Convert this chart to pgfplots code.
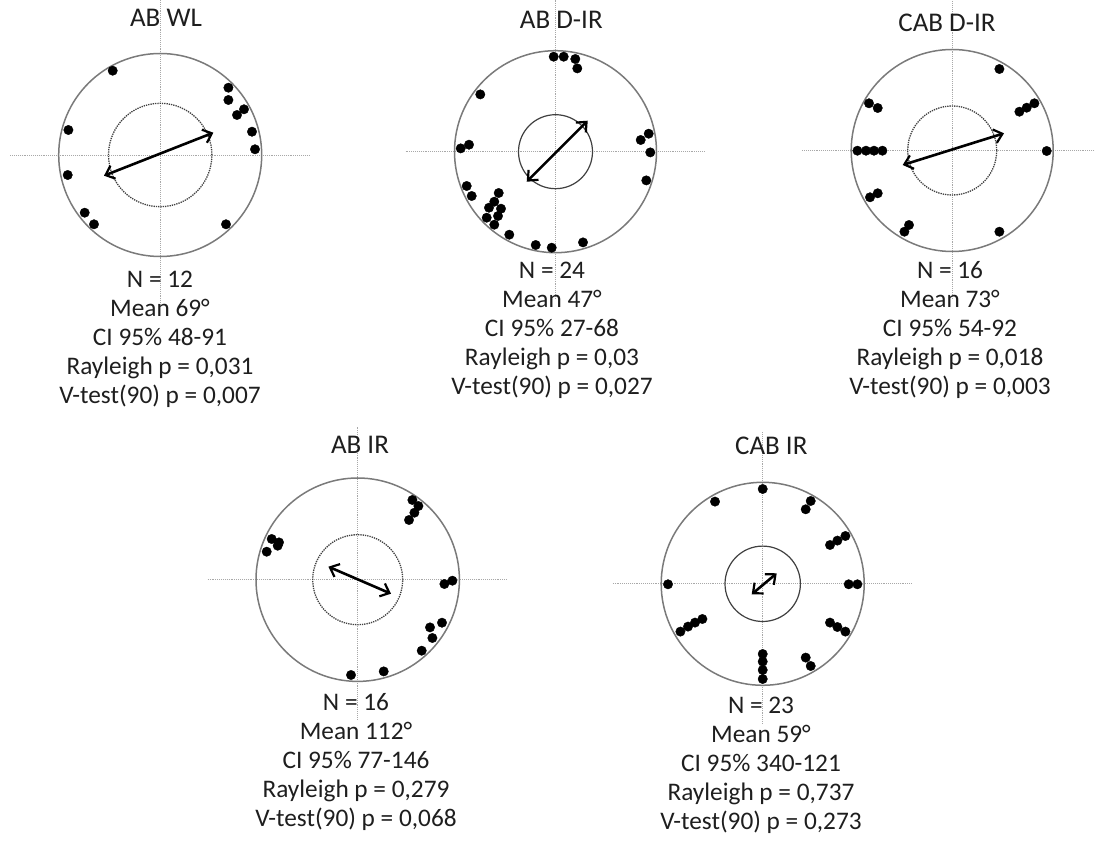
\documentclass[border=0pt]{standalone}
\usepackage{fontspec}
\setmainfont{Carlito}
\usepackage{pgfplots}
\pgfplotsset{compat=1.18}
\usetikzlibrary{arrows.meta}
\definecolor{ringgray}{HTML}{7A7A7A}
\definecolor{crossgray}{HTML}{A8A8A8}
\definecolor{innergray}{HTML}{404040}
\definecolor{txt}{HTML}{1E1E1E}
\pgfplotsset{
  polstyle/.style={hide axis, x=1pt, y=1pt, xmin=-155, xmax=155, ymin=-155, ymax=155, clip=false, anchor=center},
  cross/.style={crossgray, densely dotted, line width=0.9pt, no marks},
  dots/.style={only marks, mark=*, mark size=4.7pt, black},
  vec/.style={black, line width=2.6pt, no marks, {Straight Barb[length=8pt,width=14pt,line width=2.2pt]}-{Straight Barb[length=8pt,width=14pt,line width=2.2pt]}},
}
\newcommand{\ttl}[3]{\node[anchor=base, font=\fontsize{27}{32}\selectfont, text=txt, inner sep=0pt] at (#1pt,#2pt) {#3};}
\newcommand{\stats}[7]{%
  \node[anchor=base, font=\fontsize{25.3}{28}\selectfont, text=txt, inner sep=0pt] at (#1pt,#2pt) {#3};
  \node[anchor=base, font=\fontsize{25.3}{28}\selectfont, text=txt, inner sep=0pt] at (#1pt,#2pt-28.8pt) {#4};
  \node[anchor=base, font=\fontsize{25.3}{28}\selectfont, text=txt, inner sep=0pt] at (#1pt,#2pt-57.6pt) {#5};
  \node[anchor=base, font=\fontsize{25.3}{28}\selectfont, text=txt, inner sep=0pt] at (#1pt,#2pt-86.4pt) {#6};
  \node[anchor=base, font=\fontsize{25.3}{28}\selectfont, text=txt, inner sep=0pt] at (#1pt,#2pt-115.2pt) {#7};}
\begin{document}
\begin{tikzpicture}
\useasboundingbox (0,0) rectangle (1095pt,841pt);
% ---------- AB WL ----------
\begin{axis}[polstyle, at={(160.2pt,686pt)}]
\addplot[cross] coordinates {(-150,0) (150,0)};
\addplot[cross] coordinates {(0,-150) (0,155)};
\draw[ringgray, line width=1.5pt] (axis cs:0,0) circle[radius=101.5pt];
\draw[innergray, densely dotted, line width=1.3pt] (axis cs:0,0) circle[radius=51.7pt];
\addplot[vec] coordinates {(-56.2,-20.7) (53.2,22.3)};
\addplot[dots] coordinates {(-47.5,84.3) (68.2,67.3) (68.2,55) (83.8,45.7) (76.8,40) (91.8,23.3) (94.8,5.7) (-91.8,25) (-92.5,-20) (-75.5,-57.7) (-66.2,-69.3) (65.8,-69.3)};
\end{axis}
% ---------- AB D-IR ----------
\begin{axis}[polstyle, at={(555.5pt,689.3pt)}]
\addplot[cross] coordinates {(-150,0) (150,0)};
\addplot[cross] coordinates {(0,-147) (0,152)};
\draw[ringgray, line width=1.5pt] (axis cs:0,0) circle[radius=101pt];
\draw[innergray, line width=1.2pt] (axis cs:0,0) circle[radius=37pt];
\addplot[vec] coordinates {(-28.8,-30) (32.2,31)};
\addplot[dots] coordinates {(-1.8,95) (8.2,95) (19.8,92.7) (21.8,83.3) (-75.2,57.3) (-86.5,7) (-94.8,3.3) (85.2,11.7) (93.2,18) (94.8,-0.7) (90.8,-28.7) (-88.8,-34.3) (-83.8,-44.3) (-56.8,-41.3) (-61.2,-50) (-66.5,-56) (-54.5,-57) (-68.8,-66) (-57.5,-64.3) (-61.2,-73) (-46.2,-83) (-19.8,-93.3) (-3.8,-96) (27.5,-90.7)};
\end{axis}
% ---------- CAB D-IR ----------
\begin{axis}[polstyle, at={(952.2pt,690.5pt)}]
\addplot[cross] coordinates {(-150,0) (150,0)};
\addplot[cross] coordinates {(0,-148) (0,152)};
\draw[ringgray, line width=1.5pt] (axis cs:0,0) circle[radius=101pt];
\draw[innergray, densely dotted, line width=1.3pt] (axis cs:0,0) circle[radius=44.5pt];
\addplot[vec] coordinates {(-49.5,-14.5) (51.8,17.2)};
\addplot[dots] coordinates {(47.2,81.5) (-83.2,47.2) (-74.5,42.5) (67.2,38.8) (74.5,42.8) (82.2,47.2) (-94.8,-0.2) (-86.2,-0.2) (-78.2,-0.2) (-69.8,-0.2) (94.5,-0.5) (-82.2,-46.8) (-74.5,-42.8) (-47.8,-81.2) (-43.2,-74.5) (47.2,-81.2)};
\end{axis}
% ---------- AB IR ----------
\begin{axis}[polstyle, at={(357.7pt,261.3pt)}]
\addplot[cross] coordinates {(-150,0) (150,0)};
\addplot[cross] coordinates {(0,-140) (0,153)};
\draw[ringgray, line width=1.5pt] (axis cs:0,0) circle[radius=101.7pt];
\draw[innergray, densely dotted, line width=1.3pt] (axis cs:0,0) circle[radius=45pt];
\addplot[vec] coordinates {(-29.3,13) (33.3,-14)};
\addplot[dots] coordinates {(54.7,79.7) (60.7,73.7) (56.7,67) (51.3,59.7) (-86,40.7) (-78.7,37.3) (-80,34) (-91,28) (86.7,-4.3) (94.7,-1) (84.3,-43) (72.3,-47.7) (74.7,-58.3) (64,-71) (26,-91.7) (-6.7,-95.3)};
\end{axis}
% ---------- CAB IR ----------
\begin{axis}[polstyle, at={(762.7pt,257.2pt)}]
\addplot[cross] coordinates {(-150,0) (150,0)};
\addplot[cross] coordinates {(0,-140) (0,152)};
\draw[ringgray, line width=1.5pt] (axis cs:0,0) circle[radius=101.5pt];
\draw[innergray, line width=1.2pt] (axis cs:0,0) circle[radius=37.7pt];
\addplot[vec] coordinates {(-11,-10.5) (14,10.5)};
\addplot[dots] coordinates {(0,94.8) (-47.7,82.2) (48,82.8) (43,74.5) (82.7,47.8) (74.7,43.2) (67.3,38.8) (-94.7,-0.5) (86,-0.5) (94.7,-0.5) (-60.3,-35.2) (-67.7,-38.8) (-74.7,-42.8) (-82.3,-47.8) (67.3,-38.8) (74.7,-43.2) (82.7,-47.8) (0,-70.2) (0,-77.8) (0,-86.2) (0,-95.2) (43,-73.8) (48,-82.2)};
\end{axis}
% ---------- titles ----------
\ttl{166}{814.3}{AB WL}
\ttl{561.3}{812.7}{AB D-IR}
\ttl{947}{809.3}{CAB D-IR}
\ttl{360}{387.7}{AB IR}
\ttl{771.3}{386}{CAB IR}
% ---------- statistics ----------
\stats{160}{553}{N = 12}{Mean 69°}{CI 95\% 48-91}{Rayleigh p = 0,031}{V-test(90) p = 0,007}
\stats{552}{562}{N = 24}{Mean 47°}{CI 95\% 27-68}{Rayleigh p = 0,03}{V-test(90) p = 0,027}
\stats{950}{562}{N = 16}{Mean 73°}{CI 95\% 54-92}{Rayleigh p = 0,018}{V-test(90) p = 0,003}
\stats{356}{130}{N = 16}{Mean 112°}{CI 95\% 77-146}{Rayleigh p = 0,279}{V-test(90) p = 0,068}
\stats{761}{127}{N = 23}{Mean 59°}{CI 95\% 340-121}{Rayleigh p = 0,737}{V-test(90) p = 0,273}
\end{tikzpicture}
\end{document}
